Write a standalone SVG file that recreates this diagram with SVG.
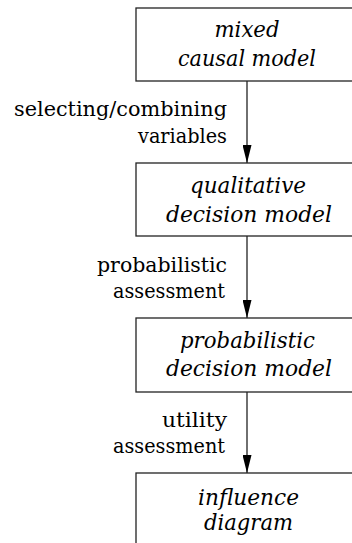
<svg xmlns="http://www.w3.org/2000/svg" width="352" height="543" viewBox="0 0 352 543">
<style>
.box{fill:#fff;stroke:#222;stroke-width:1.3}
.nt{font-family:'DejaVu Serif',serif;font-style:italic;font-size:23px;text-anchor:middle;fill:#000}
.lb{font-family:'DejaVu Serif',serif;font-size:21px;text-anchor:end;fill:#000}
.edge{stroke:#222;stroke-width:1.3;fill:none}
</style>
<defs>
<marker id="ah" viewBox="0 0 18 9" refX="18" refY="4.5" markerWidth="18" markerHeight="9" markerUnits="userSpaceOnUse" orient="auto">
<path d="M0,0 L18,4.5 L0,9 Z" fill="#000"/>
</marker>
</defs>
<rect width="352" height="543" fill="#fff"/>
<g id="connectors">
<line class="edge" x1="247" y1="81" x2="247" y2="163" marker-end="url(#ah)"/>
<line class="edge" x1="247" y1="236" x2="247" y2="318" marker-end="url(#ah)"/>
<line class="edge" x1="247" y1="392" x2="247" y2="473" marker-end="url(#ah)"/>
</g>
<g id="mixed-causal-model">
<rect class="box" x="136" y="8" width="222" height="73"/>
<text class="nt" x="247" y="37" textLength="65" lengthAdjust="spacingAndGlyphs">mixed</text>
<text class="nt" x="247" y="66" textLength="138" lengthAdjust="spacingAndGlyphs">causal model</text>
</g>
<g id="qualitative-decision-model">
<rect class="box" x="136" y="163" width="222" height="73"/>
<text class="nt" x="248" y="193" textLength="116" lengthAdjust="spacingAndGlyphs">qualitative</text>
<text class="nt" x="249" y="222" textLength="166" lengthAdjust="spacingAndGlyphs">decision model</text>
</g>
<g id="probabilistic-decision-model">
<rect class="box" x="136" y="318" width="222" height="74"/>
<text class="nt" x="247.5" y="348" textLength="135" lengthAdjust="spacingAndGlyphs">probabilistic</text>
<text class="nt" x="249" y="376" textLength="166" lengthAdjust="spacingAndGlyphs">decision model</text>
</g>
<g id="influence-diagram">
<rect class="box" x="136" y="473" width="222" height="90"/>
<text class="nt" x="248.5" y="505" textLength="101" lengthAdjust="spacingAndGlyphs">influence</text>
<text class="nt" x="248.5" y="530" textLength="89" lengthAdjust="spacingAndGlyphs">diagram</text>
</g>
<g id="edge-labels">
<text class="lb" x="227" y="116" textLength="213" lengthAdjust="spacingAndGlyphs">selecting/combining</text>
<text class="lb" x="227" y="143" textLength="89" lengthAdjust="spacingAndGlyphs">variables</text>
<text class="lb" x="227" y="272" textLength="130" lengthAdjust="spacingAndGlyphs">probabilistic</text>
<text class="lb" x="225" y="298" textLength="112" lengthAdjust="spacingAndGlyphs">assessment</text>
<text class="lb" x="227" y="427" textLength="65" lengthAdjust="spacingAndGlyphs">utility</text>
<text class="lb" x="225" y="453" textLength="112" lengthAdjust="spacingAndGlyphs">assessment</text>
</g>
</svg>
